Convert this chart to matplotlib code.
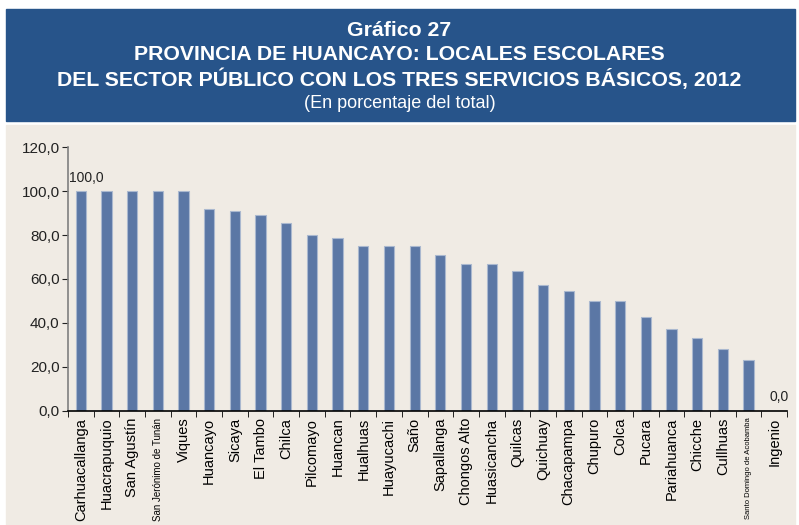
import matplotlib

matplotlib.use("Agg")
import matplotlib.pyplot as plt  # noqa: E402
from matplotlib.patches import Rectangle  # noqa: E402
from matplotlib.ticker import FixedLocator, FuncFormatter  # noqa: E402

BANNER_C = "#27548a"
BG_C = "#f0ebe4"
BAR_C = "#5b77a5"
BAR_EDGE = "#aab8cf"

districts = [
    "Carhuacallanga", "Huacrapuquio", "San Agustín", "San Jerónimo de Tunán",
    "Viques", "Huancayo", "Sicaya", "El Tambo", "Chilca", "Pilcomayo",
    "Huancan", "Hualhuas", "Huayucachi", "Saño", "Sapallanga", "Chongos Alto",
    "Huasicancha", "Quilcas", "Quichuay", "Chacapampa", "Chupuro", "Colca",
    "Pucara", "Pariahuanca", "Chicche", "Cullhuas",
    "Santo Domingo de Acobamba", "Ingenio",
]
pct = [
    100.0, 100.0, 100.0, 100.0, 100.0, 92.0, 91.0, 89.2, 85.7, 80.0,
    78.5, 75.0, 75.0, 75.0, 70.8, 66.7, 66.7, 63.6, 57.1, 54.5,
    50.0, 50.0, 42.9, 37.1, 33.3, 28.0, 23.3, 0.0,
]
yticks = [0, 20, 40, 60, 80, 100, 120]
# only these two bars carry a value label in the original
labelled = {0: "100,0", 27: "0,0"}
small_labels = {"San Jerónimo de Tunán": 7.0, "Santo Domingo de Acobamba": 5.5}

NARROW = ["Liberation Sans Narrow", "Liberation Sans", "DejaVu Sans"]
SANS = ["Liberation Sans", "DejaVu Sans"]

fig = plt.figure(figsize=(7.99, 5.25), dpi=100, facecolor="white")
W, H = 799, 525


def fx(px):
    return px / W


def fy(py):
    return 1 - py / H


# header banner + beige panel (figure coordinates), behind the axes
fig.patches.append(Rectangle((fx(6), fy(121)), fx(789), 112 / H,
                             transform=fig.transFigure, color=BANNER_C, zorder=-2))
fig.patches.append(Rectangle((fx(6), 0), fx(789), fy(125),
                             transform=fig.transFigure, color=BG_C, zorder=-2))

fig.text(0.5, fy(31), "Gráfico 27", ha="center", va="center", color="white",
         fontsize=15.3, weight="bold", family=SANS)
fig.text(0.5, fy(55), "PROVINCIA DE HUANCAYO: LOCALES ESCOLARES", ha="center",
         va="center", color="white", fontsize=15.3, weight="bold", family=SANS)
fig.text(0.5, fy(79), "DEL SECTOR PÚBLICO CON LOS TRES SERVICIOS BÁSICOS, 2012",
         ha="center", va="center", color="white", fontsize=15.3, weight="bold", family=SANS)
fig.text(0.5, fy(104), "(En porcentaje del total)", ha="center", va="center",
         color="white", fontsize=13, family=SANS)

ax = fig.add_axes([fx(68), fy(410.7), fx(719), (410.7 - 147.3) / H])
ax.set_facecolor("none")
x = list(range(len(districts)))
ax.bar(x, pct, width=0.4, color=BAR_C, edgecolor=BAR_EDGE, linewidth=0.8, zorder=2)

for i, txt in labelled.items():
    ax.text(x[i] + 0.2, pct[i] + 3, txt, ha="center", va="bottom", fontsize=10,
            family=SANS, color="#222222")

ax.set_xlim(-0.5, len(districts) - 0.5)
ax.set_ylim(0, 120)
ax.set_yticks(yticks)
ax.yaxis.set_major_formatter(FuncFormatter(lambda v, _: f"{v:.1f}".replace(".", ",")))
for lab in ax.get_yticklabels():
    lab.set_family(SANS)
ax.tick_params(axis="y", labelsize=11, length=4, direction="out", colors="#222222",
               pad=2)

ax.set_xticks(x)
ax.set_xticklabels(districts, rotation=90, family=NARROW, fontsize=10.5)
for lab in ax.get_xticklabels():
    if lab.get_text() in small_labels:
        lab.set_fontsize(small_labels[lab.get_text()])
ax.tick_params(axis="x", which="major", length=0, pad=5)
ax.xaxis.set_minor_locator(FixedLocator([i - 0.5 for i in range(len(districts) + 1)]))
ax.tick_params(axis="x", which="minor", length=4, direction="out", color="black")

for s in ("top", "right"):
    ax.spines[s].set_visible(False)
ax.spines["left"].set_color("#808080")
ax.spines["left"].set_linewidth(1.2)
ax.spines["bottom"].set_color("black")
ax.spines["bottom"].set_linewidth(1.2)

fig.savefig("out.png", dpi=100, facecolor=fig.get_facecolor())
